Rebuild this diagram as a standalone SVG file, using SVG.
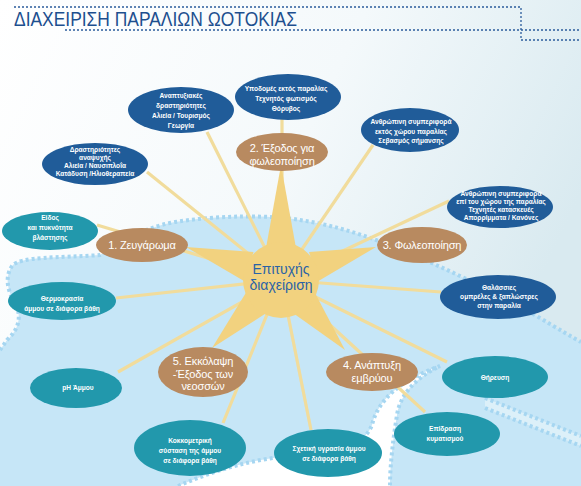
<svg xmlns="http://www.w3.org/2000/svg" width="581" height="486" viewBox="0 0 581 486">
<defs>
<linearGradient id="bg" x1="0" y1="0" x2="1" y2="0.4">
<stop offset="0" stop-color="#ffffff"/>
<stop offset="0.55" stop-color="#f4f9fb"/>
<stop offset="1" stop-color="#d9eaf0"/>
</linearGradient>
<style>
.title{font-family:"Liberation Sans","Noto Sans",sans-serif;font-size:20px;fill:#1d4f8f}
.dot{fill:none;stroke:#2b5c9c;stroke-width:1.3;stroke-dasharray:2 2}
.edge{fill:none;stroke:#a6d6f1;stroke-width:4;stroke-dasharray:3 3}
.ray{stroke:#f1dc9c;stroke-width:3.2;fill:none}
.navy{fill:#205c99}
.teal{fill:#2298ac}
.brown{fill:#b88a60}
.sun{fill:#f2d27f}
.s{font-family:"Liberation Sans","Noto Sans",sans-serif;font-size:6.6px;font-weight:bold;fill:#ffffff;text-anchor:middle}
.b{font-family:"Liberation Sans","Noto Sans",sans-serif;font-size:11px;letter-spacing:-0.15px;fill:#ffffff;text-anchor:middle}
.c{font-family:"Liberation Sans","Noto Sans",sans-serif;font-size:14px;fill:#2a63a6;text-anchor:middle}
</style>
</defs>
<rect x="0" y="0" width="581" height="486" fill="url(#bg)"/>
<!-- background sea area -->
<path d="M0,350 L7,340 C18,330 22,318 16,305 C8,292 4,278 12,266 C20,256 60,258 100,255 C120,245 140,228 175,222 C220,215 270,215 300,220 C340,226 380,240 420,258 C460,275 500,295 540,318 C560,330 570,336 581,342 L581,486 L0,486 Z" fill="#c6e6f7"/>
<path d="M0,350 L7,340 C18,330 22,318 16,305 C8,292 4,278 12,266 C20,256 60,258 100,255 C120,245 140,228 175,222 C220,215 270,215 300,220 C340,226 380,240 420,258 C460,275 500,295 540,318 C560,330 570,336 581,342" class="edge"/>
<path d="M178,486 C215,470 255,458 300,455 C350,452 366,440 372,425 C378,400 400,380 440,366 C415,378 400,395 397,415 C393,440 390,465 390,486 Z" fill="#ffffff"/>
<path d="M178,486 C215,470 255,458 300,455 C350,452 366,440 372,425 C378,400 400,380 440,366 C415,378 400,395 397,415 C393,440 390,465 390,486" class="edge"/>
<path d="M485,398 L581,436 L581,446 L485,408 Z" fill="#dcf0f9"/>
<path d="M485,398 L581,436 M485,408 L581,446" class="edge" stroke-width="3"/>
<!-- title -->
<g id="title">
<path d="M14,7 H521 V40 H581" class="dot"/>
<path d="M65,30 H581" class="dot"/>
<text x="14" y="26" class="title" textLength="283" lengthAdjust="spacingAndGlyphs">ΔΙΑΧΕΙΡΙΣΗ ΠΑΡΑΛΙΩΝ ΩΟΤΟΚΙΑΣ</text>
</g>
<!-- connectors -->
<g id="connectors">
<line class="ray" x1="281" y1="280" x2="207" y2="132"/>
<line class="ray" x1="281" y1="280" x2="147" y2="172"/>
<line class="ray" x1="281" y1="280" x2="373" y2="145"/>
<line class="ray" x1="281" y1="280" x2="449" y2="201"/>
<line class="ray" x1="281" y1="280" x2="116" y2="298"/>
<line class="ray" x1="281" y1="280" x2="118" y2="372"/>
<line class="ray" x1="281" y1="280" x2="441" y2="292"/>
<line class="ray" x1="281" y1="280" x2="447" y2="362"/>
<line class="ray" x1="281" y1="280" x2="311" y2="430"/>
<line class="ray" x1="282" y1="280" x2="282" y2="118"/>
<line class="ray" x1="281" y1="280" x2="97" y2="225"/>
<line class="ray" x1="281" y1="280" x2="223" y2="423"/>
<line class="ray" x1="281" y1="280" x2="425" y2="412"/>
</g>
<!-- sun -->
<g id="sun">
<polygon class="sun" points="281,165 266,248 296,248"/>
<polygon class="sun" points="186,247 253.5,252 244,281"/>
<polygon class="sun" points="376,247 318.5,281 309,252"/>
<polygon class="sun" points="212,348 268,312 247,291"/>
<polygon class="sun" points="345,350 315,293 293,313"/>
<circle class="sun" cx="281" cy="280" r="38"/>
<text class="c" x="281" y="274">Επιτυχής</text>
<text class="c" x="281" y="290">διαχείριση</text>
</g>
<!-- brown nodes -->
<g id="n1"><ellipse class="brown" cx="142" cy="245" rx="46" ry="17"/><text class="b" x="142" y="249">1. Ζευγάρωμα</text></g>
<g id="n2"><ellipse class="brown" cx="282" cy="152" rx="46" ry="19"/><text class="b" x="282" y="152">2. Έξοδος για</text><text class="b" x="282" y="165">φωλεοποίηση</text></g>
<g id="n3"><ellipse class="brown" cx="422" cy="245" rx="45" ry="18"/><text class="b" x="422" y="249">3. Φωλεοποίηση</text></g>
<g id="n4"><ellipse class="brown" cx="372" cy="372" rx="46" ry="19"/><text class="b" x="372" y="368.5">4. Ανάπτυξη</text><text class="b" x="372" y="381.5">εμβρύου</text></g>
<g id="n5"><ellipse class="brown" cx="203" cy="372" rx="45" ry="25"/><text class="b" x="203" y="365">5. Εκκόλαψη</text><text class="b" x="203" y="377.5">-Έξοδος των</text><text class="b" x="203" y="390">νεοσσών</text></g>
<!-- navy nodes -->
<g id="anaptyxiakes"><ellipse class="navy" cx="181" cy="110" rx="53" ry="23"/>
<text class="s" x="181" y="98">Αναπτυξιακές</text><text class="s" x="181" y="108">δραστηριότητες</text><text class="s" x="181" y="118">Αλιεία / Τουρισμός</text><text class="s" x="181" y="128">Γεωργία</text></g>
<g id="ypodomes"><ellipse class="navy" cx="288" cy="97" rx="53" ry="23"/>
<text class="s" x="286" y="90.5">Υποδομές εκτός παραλίας</text><text class="s" x="286" y="100.5">Τεχνητός φωτισμός</text><text class="s" x="286" y="110.5">Θόρυβος</text></g>
<g id="anthropini-ektos"><ellipse class="navy" cx="410" cy="130" rx="49" ry="22"/>
<text class="s" x="411" y="124">Ανθρώπινη συμπεριφορά</text><text class="s" x="411" y="133.5">εκτός χώρου παραλίας</text><text class="s" x="411" y="143">Σεβασμός σήμανσης</text></g>
<g id="anthropini-epi"><ellipse class="navy" cx="500" cy="207" rx="53" ry="21"/>
<text class="s" x="501" y="196">Ανθρώπινη συμπεριφορά</text><text class="s" x="501" y="204">επί του χώρου της παραλίας</text><text class="s" x="501" y="212">Τεχνητές κατασκευές</text><text class="s" x="501" y="220">Απορρίμματα / Κανόνες</text></g>
<g id="anapsyxi"><ellipse class="navy" cx="95" cy="164" rx="53" ry="21"/>
<text class="s" x="95" y="152">Δραστηριότητες</text><text class="s" x="95" y="160">αναψυχής</text><text class="s" x="95" y="168">Αλιεία / Ναυσιπλοΐα</text><text class="s" x="95" y="176">Κατάδυση /Ηλιοθεραπεία</text></g>
<g id="thalassies"><ellipse class="navy" cx="498" cy="297" rx="58" ry="22"/>
<text class="s" x="499" y="289.5">Θαλάσσιες</text><text class="s" x="499" y="298.5">ομπρέλες &amp; ξαπλώστρες</text><text class="s" x="499" y="307.5">στην παραλία</text></g>
<!-- teal nodes -->
<g id="eidos"><ellipse class="teal" cx="50" cy="231" rx="48" ry="19"/>
<text class="s" x="50" y="220">Είδος</text><text class="s" x="50" y="230">και πυκνότητα</text><text class="s" x="50" y="240">βλάστησης</text></g>
<g id="thermokrasia"><ellipse class="teal" cx="62" cy="301" rx="54" ry="19"/>
<text class="s" x="62" y="300.5">Θερμοκρασία</text><text class="s" x="62" y="310.5">άμμου σε διάφορα βάθη</text></g>
<g id="ph"><ellipse class="teal" cx="76" cy="388" rx="46" ry="20"/>
<text class="s" x="78" y="390">pH Άμμου</text></g>
<g id="kokkometriki"><ellipse class="teal" cx="190" cy="448" rx="56" ry="28"/>
<text class="s" x="190" y="442.5">Κοκκομετρική</text><text class="s" x="190" y="452.5">σύσταση της άμμου</text><text class="s" x="190" y="462.5">σε διάφορα βάθη</text></g>
<g id="ygrasia"><ellipse class="teal" cx="328" cy="453" rx="54" ry="24"/>
<text class="s" x="329" y="450.5">Σχετική υγρασία άμμου</text><text class="s" x="329" y="460.5">σε διάφορα βάθη</text></g>
<g id="epidrasi"><ellipse class="teal" cx="447" cy="434" rx="53" ry="22"/>
<text class="s" x="445" y="430.5">Επίδραση</text><text class="s" x="445" y="440.5">κυματισμού</text></g>
<g id="thireusi"><ellipse class="teal" cx="495" cy="377" rx="53" ry="21"/>
<text class="s" x="495" y="379.5">Θήρευση</text></g>
</svg>
